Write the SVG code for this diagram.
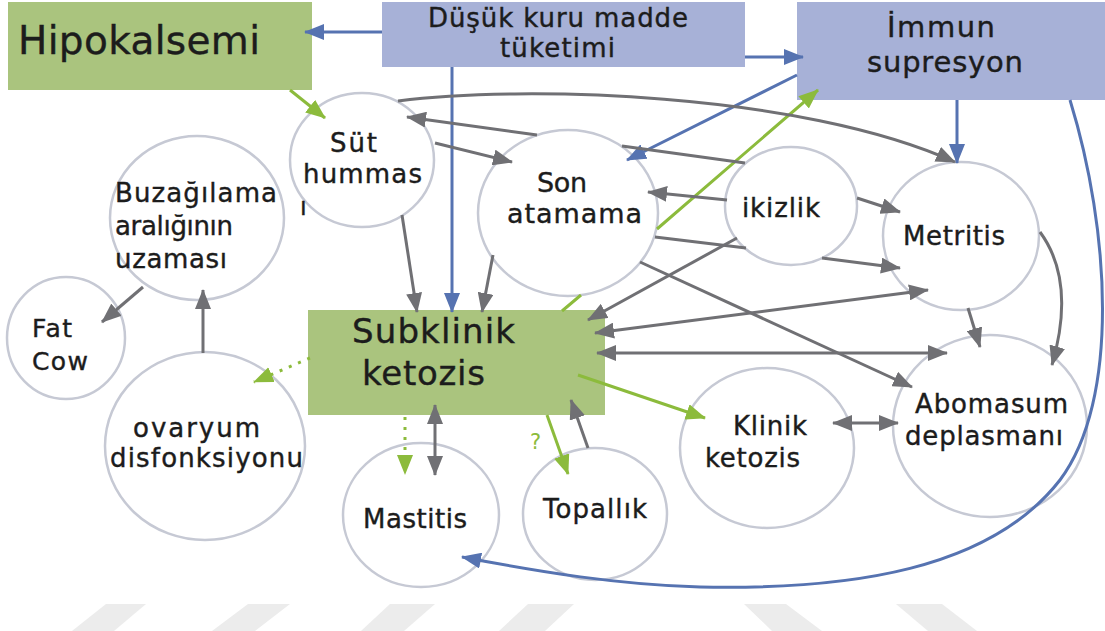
<svg xmlns="http://www.w3.org/2000/svg" width="1105" height="631" viewBox="0 0 1105 631">
<defs>
<style>
.t{font-family:"DejaVu Sans","Liberation Sans",sans-serif;fill:#1c1c1c;stroke:#1c1c1c;stroke-width:0.4}
.n{fill:#fff;stroke:#c6c9d4;stroke-width:2.5}
.gb{fill:#aac47e}
.bb{fill:#a7b1d7}
.g{fill:none;stroke:#707074;stroke-width:3}
.b{fill:none;stroke:#5673b1;stroke-width:3}
.gr{fill:none;stroke:#8cbb3c;stroke-width:3}
.wm{fill:#ececec}
</style>
<marker id="ag" markerUnits="userSpaceOnUse" markerWidth="20" markerHeight="16" viewBox="0 0 20 16" refX="19" refY="8" orient="auto-start-reverse"><path d="M0,0 L20,8 L0,16 z" fill="#707074"/></marker>
<marker id="ab" markerUnits="userSpaceOnUse" markerWidth="20" markerHeight="16" viewBox="0 0 20 16" refX="19" refY="8" orient="auto-start-reverse"><path d="M0,0 L20,8 L0,16 z" fill="#5673b1"/></marker>
<marker id="agr" markerUnits="userSpaceOnUse" markerWidth="20" markerHeight="16" viewBox="0 0 20 16" refX="19" refY="8" orient="auto-start-reverse"><path d="M0,0 L20,8 L0,16 z" fill="#8cbb3c"/></marker>
</defs>
<rect width="1105" height="631" fill="#fff"/>
<g id="watermark">
<polygon class="wm" points="106,604 146,604 114,631 72,631"/>
<polygon class="wm" points="248,604 290,604 255,631 212,631"/>
<polygon class="wm" points="390,604 435,604 404,631 361,631"/>
<polygon class="wm" points="528,604 574,604 545,631 499,631"/>
<polygon class="wm" points="744,604 786,604 822,631 772,631"/>
<polygon class="wm" points="896,604 942,604 977,631 928,631"/>
</g>
<g id="hipokalsemi"><rect class="gb" x="8" y="2" width="304" height="88"/><text class="t" x="18" y="54" font-size="39" textLength="242">Hipokalsemi</text></g>
<g id="dusuk"><rect class="bb" x="382" y="2" width="363" height="65"/><text class="t" x="428" y="27" font-size="26" textLength="260">Düşük kuru madde</text><text class="t" x="500" y="57" font-size="26" textLength="115">tüketimi</text></g>
<g id="immun"><rect class="bb" x="797" y="2" width="308" height="98"/><text class="t" x="887" y="37" font-size="29" textLength="108">İmmun</text><text class="t" x="867" y="72" font-size="29" textLength="156">supresyon</text></g>
<g id="subklinik"><rect class="gb" x="308" y="310" width="297" height="105"/><text class="t" x="352" y="343" font-size="34" textLength="163">Subklinik</text><text class="t" x="362" y="385" font-size="34" textLength="123">ketozis</text></g>
<g id="sut"><ellipse class="n" cx="362" cy="160" rx="72" ry="67"/><text class="t" x="330" y="152" font-size="26" textLength="47">Süt</text><text class="t" x="303" y="183" font-size="26" textLength="119">hummas</text><text class="t" x="300" y="215" font-size="24">ı</text></g>
<g id="son"><ellipse class="n" cx="568" cy="213" rx="90" ry="83"/><text class="t" x="537" y="192" font-size="27" textLength="50">Son</text><text class="t" x="507" y="223" font-size="27" textLength="135">atamama</text></g>
<g id="ikizlik"><ellipse class="n" cx="791" cy="206" rx="66" ry="59"/><text class="t" x="742" y="217" font-size="26" textLength="78">ikizlik</text></g>
<g id="metritis"><ellipse class="n" cx="961" cy="236" rx="78" ry="74"/><text class="t" x="903" y="245" font-size="26" textLength="102">Metritis</text></g>
<g id="abomasum"><ellipse class="n" cx="990" cy="426" rx="97" ry="91"/><text class="t" x="915" y="413" font-size="26" textLength="153">Abomasum</text><text class="t" x="905" y="445" font-size="26" textLength="158">deplasmanı</text></g>
<g id="klinik"><ellipse class="n" cx="767" cy="448" rx="87" ry="80"/><text class="t" x="733" y="435" font-size="26" textLength="74">Klinik</text><text class="t" x="705" y="467" font-size="26" textLength="95">ketozis</text></g>
<g id="topallik"><ellipse class="n" cx="595" cy="514" rx="72" ry="66"/><text class="t" x="543" y="518" font-size="26" textLength="104">Topallık</text></g>
<g id="mastitis"><ellipse class="n" cx="421" cy="515" rx="78" ry="72"/><text class="t" x="363" y="528" font-size="26" textLength="104">Mastitis</text></g>
<g id="ovaryum"><ellipse class="n" cx="205" cy="446" rx="100" ry="94"/><text class="t" x="133" y="437" font-size="26" textLength="127">ovaryum</text><text class="t" x="110" y="467" font-size="26" textLength="193">disfonksiyonu</text></g>
<g id="buzagilama"><ellipse class="n" cx="197" cy="218" rx="87" ry="82"/><text class="t" x="115" y="202" font-size="26" textLength="162">Buzağılama</text><text class="t" x="115" y="235" font-size="26" textLength="118">aralığının</text><text class="t" x="115" y="268" font-size="26" textLength="112">uzaması</text></g>
<g id="fatcow"><ellipse class="n" cx="66" cy="338" rx="59" ry="61"/><text class="t" x="32" y="337" font-size="25" textLength="40">Fat</text><text class="t" x="32" y="370" font-size="25" textLength="56">Cow</text></g>
<g id="connectors">
<path class="b" d="M382,32 L305,32" marker-end="url(#ab)"/>
<path class="b" d="M745,57 L803,57" marker-end="url(#ab)"/>
<path class="b" d="M452,67 L452,312" marker-end="url(#ab)"/>
<path class="b" d="M797,75 L627,160" marker-end="url(#ab)"/>
<path class="b" d="M957,100 L957,163" marker-end="url(#ab)"/>
<path class="b" d="M1070,100 C1110,230 1120,400 1060,480 C990,570 850,590 700,587 C620,585 540,572 462,557" marker-end="url(#ab)"/>
<path class="gr" d="M290,90 L325,118" marker-end="url(#agr)"/>
<path class="gr" d="M562,311 L581,295 M657,229 L818,90" marker-end="url(#agr)"/>
<path class="gr" d="M310,358 L254,382" stroke-dasharray="3,7" marker-end="url(#agr)"/>
<path class="gr" d="M405,417 L405,474" stroke-dasharray="3,7" marker-end="url(#agr)"/>
<path class="gr" d="M547,415 L568,474" marker-end="url(#agr)"/>
<path class="gr" d="M578,375 L705,418" marker-end="url(#agr)"/>
<text x="530" y="449" font-family="DejaVu Sans, sans-serif" font-size="21" fill="#8cbb3c">?</text>
<path class="g" d="M402,215 L417,312" marker-end="url(#ag)"/>
<path class="g" d="M493,255 L482,312" marker-end="url(#ag)"/>
<path class="g" d="M745,163 L622,146 M537,135 L407,117" marker-end="url(#ag)"/>
<path class="g" d="M435,143 L512,162" marker-end="url(#ag)"/>
<path class="g" d="M398,101 C520,85 800,92 955,162" marker-end="url(#ag)"/>
<path class="g" d="M727,200 L648,192" marker-end="url(#ag)"/>
<path class="g" d="M857,198 L900,212" marker-end="url(#ag)"/>
<path class="g" d="M655,237 L746,248 M822,258 L900,268" marker-end="url(#ag)"/>
<path class="g" d="M640,262 L912,387" marker-end="url(#ag)"/>
<path class="g" d="M737,238 L588,320" marker-end="url(#ag)"/>
<path class="g" d="M595,333 L928,290" marker-start="url(#ag)" marker-end="url(#ag)"/>
<path class="g" d="M597,353 L947,353" marker-start="url(#ag)" marker-end="url(#ag)"/>
<path class="g" d="M968,308 L980,347" marker-end="url(#ag)"/>
<path class="g" d="M1040,232 C1068,270 1065,320 1052,365" marker-end="url(#ag)"/>
<path class="g" d="M833,423 L898,423" marker-start="url(#ag)" marker-end="url(#ag)"/>
<path class="g" d="M588,448 L571,400" marker-end="url(#ag)"/>
<path class="g" d="M435,405 L435,475" marker-start="url(#ag)" marker-end="url(#ag)"/>
<path class="g" d="M143,287 L102,322" marker-end="url(#ag)"/>
<path class="g" d="M203,353 L203,290" marker-end="url(#ag)"/>
</g>
</svg>
